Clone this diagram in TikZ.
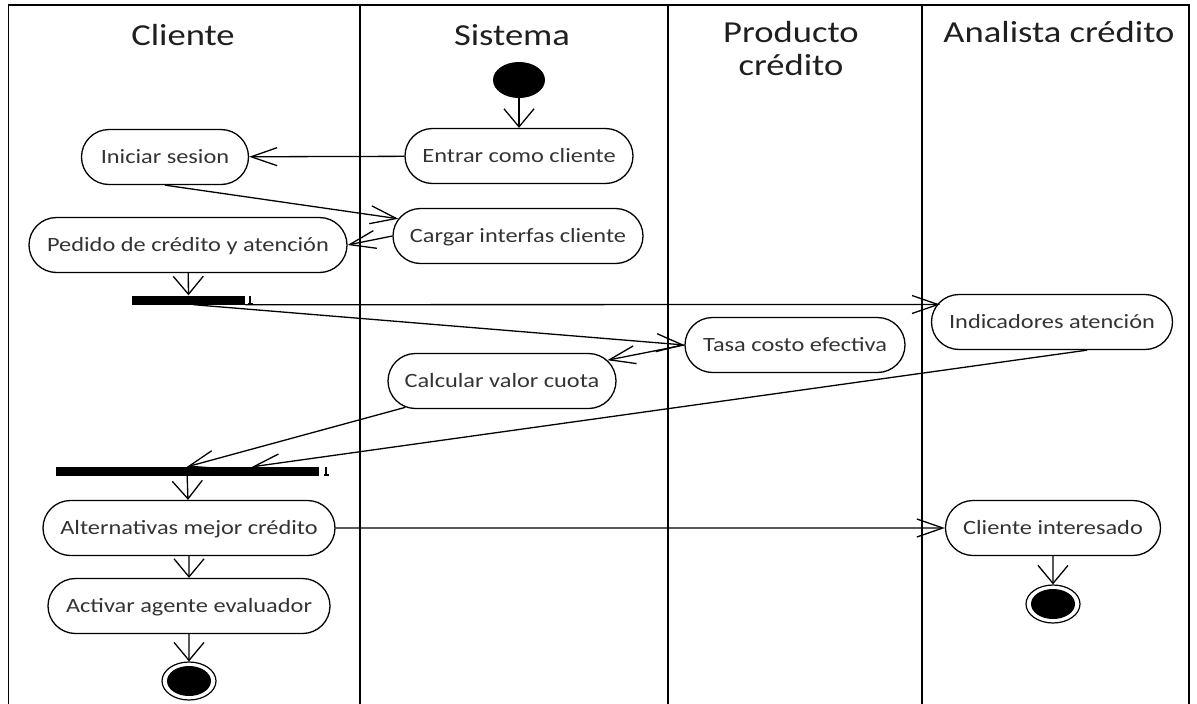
\documentclass[tikz,border=0pt]{standalone}
\usepackage{fontspec}
\setmainfont{Carlito}[FakeStretch=1.2]
\usetikzlibrary{arrows.meta,shapes.misc,shapes.geometric,calc}

\begin{document}
\begin{tikzpicture}[x=1pt,y=-1pt,
  lane/.style={line width=1.6pt},
  activity/.style={rounded rectangle, draw, line width=1.3pt, minimum height=55pt,
    inner sep=0pt, text height=13pt, text depth=0pt,
    font=\fontsize{20.3}{24}\selectfont, text=black!80},
  head/.style={anchor=base, inner sep=0pt, font=\fontsize{30.5}{33}\selectfont, text=black!88},
  syncbar/.style={fill=black, inner sep=0pt, minimum height=9pt},
  startnode/.style={ellipse, fill=black, inner sep=0pt, minimum width=52pt, minimum height=36pt},
  endouter/.style={ellipse, draw, line width=1.2pt, fill=white, inner sep=0pt, minimum width=54pt, minimum height=38pt},
  endinner/.style={ellipse, fill=black, inner sep=0pt, minimum width=44pt, minimum height=30pt},
  flow/.style={line width=1.3pt},
  harr/.style={flow, -{Straight Barb[length=26pt,width=18pt]}},
  varr/.style={flow, -{Straight Barb[length=18pt,width=30pt]}},
  tick/.style={line width=1.2pt}
]
\useasboundingbox (0,0) rectangle (1197,704);

% swimlane frame
\draw[lane] (8.5,704) -- (8.5,5) -- (1189,5) -- (1189,704);
\draw[lane] (360,5) -- (360,704);
\draw[lane] (668,5) -- (668,704);
\draw[lane] (922,5) -- (922,704);

% lane titles
\node[head] (hCli) at (183,45) {Cliente};
\node[head] (hSis) at (512,45) {Sistema};
\node[head] (hProd) at (791,42) {Producto};
\node[head] (hProd2) at (791,75) {crédito};
\node[head] (hAna) at (1059,42) {Analista crédito};

% activities
\node[startnode] (start) at (519,80) {};
\node[activity, minimum width=228pt] (entrar) at (519,156) {Entrar como cliente};
\node[activity, minimum width=167pt] (ini) at (165,157) {Iniciar sesion};
\node[activity, minimum width=250pt] (carg) at (518,236) {Cargar interfas cliente};
\node[activity, minimum width=318pt] (ped) at (188,245) {Pedido de crédito y atención};
\node[syncbar, minimum width=113pt] (bar1) at (188.5,300) {};
\node[activity, minimum width=241pt] (ind) at (1052,322) {Indicadores atención};
\node[activity, minimum width=220pt] (tasa) at (795,345) {Tasa costo efectiva};
\node[activity, minimum width=228pt] (calc) at (502,381) {Calcular valor cuota};
\node[syncbar, minimum width=263pt] (bar2) at (187,471.5) {};
\node[activity, minimum width=292pt] (alt) at (189,528) {Alternativas mejor crédito};
\node[activity, minimum width=282pt] (actv) at (189,606) {Activar agente evaluador};
\node[activity, minimum width=215pt] (cli) at (1053,528) {Cliente interesado};
\node[endouter] (fin1) at (189,681) {};
\node[endinner] (fin1c) at (fin1.center) {};
\node[endouter] (fin2) at (1053,604) {};
\node[endinner] (fin2c) at (fin2.center) {};

% small marks beside the bars
\draw[tick] (250,296) -- (250,304) (247.5,304) -- (253,304);
\draw[tick] (326,467) -- (326,475) (323.5,475) -- (329,475);

% flows
\coordinate (indin) at (940,304.5);
\draw[varr] (start) -- (entrar);
\draw[harr] (entrar) -- (ini);
\draw[harr] (ini.south) -- (carg);
\draw[harr] (carg.west) -- (ped.east);
\draw[varr] (ped) -- (bar1);
\draw[harr] (bar1.south east) -- (indin);
\draw[harr] ($(bar1.south)+(5,0)$) -- (tasa.west);
\draw[harr] (tasa.west) -- (calc);
\draw[harr] (calc) -- (bar2.north);
\draw[harr] ($(ind.south)+(35,0)$) -- ($(bar2.north)+(65,0)$);
\draw[varr] (bar2) -- (alt);
\draw[varr] (alt) -- (actv);
\draw[varr] (actv) -- (fin1);
\draw[harr] (alt) -- (cli);
\draw[varr] (cli) -- (fin2);
\end{tikzpicture}
\end{document}
